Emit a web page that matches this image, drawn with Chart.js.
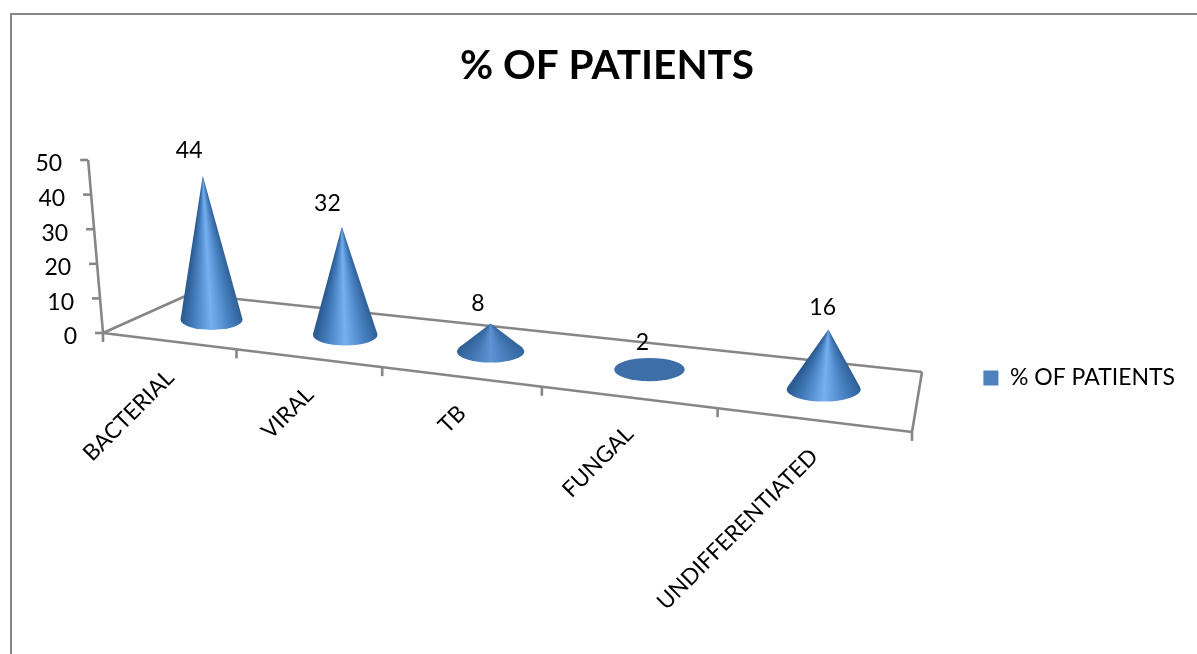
<!DOCTYPE html>
<html>
<head>
<meta charset="utf-8">
<title>% OF PATIENTS</title>
<script src="https://cdn.jsdelivr.net/npm/chart.js@4/dist/chart.umd.js"></script>
<style>
  html, body { margin: 0; height: 100%; overflow: hidden; background: #fff; }
  #frame { position: absolute; left: 10px; top: 13px; width: 1300px; height: 800px; border: 2px solid #868686; }
  canvas { position: absolute; left: 0; top: 0; }
</style>
</head>
<body>
<div id="frame"></div>
<canvas id="chart" width="1197" height="654"></canvas>
<script>
const categories = ['BACTERIAL', 'VIRAL', 'TB', 'FUNGAL', 'UNDIFFERENTIATED'];
const patientPercent = [44, 32, 8, 2, 16];
const yTickValues = [0, 10, 20, 30, 40, 50];
const seriesName = '% OF PATIENTS';

const FONT = 'Lato, "Noto Sans", sans-serif';
const AXIS_GREY = '#868686';

// Floor of the 3D box: front-left, front-right, back-right, back-left
const FLOOR = [[103, 333], [912, 432], [922, 372], [190, 294]];
const WALL_HEIGHT = 173;
const CONE_HEIGHT = 167.7;
const CONE_RADIUS = 32;

// unit square -> floor quad
function makeHomography([p0, p1, p2, p3]) {
  const dx1 = p1[0] - p2[0], dx2 = p3[0] - p2[0], sx = p0[0] - p1[0] + p2[0] - p3[0];
  const dy1 = p1[1] - p2[1], dy2 = p3[1] - p2[1], sy = p0[1] - p1[1] + p2[1] - p3[1];
  const den = dx1 * dy2 - dx2 * dy1;
  const g = (sx * dy2 - dx2 * sy) / den;
  const h = (dx1 * sy - sx * dy1) / den;
  const a = p1[0] - p0[0] + g * p1[0], b = p3[0] - p0[0] + h * p3[0];
  const d = p1[1] - p0[1] + g * p1[1], e = p3[1] - p0[1] + h * p3[1];
  return (u, v) => {
    const w = g * u + h * v + 1;
    return { x: (a * u + b * v + p0[0]) / w, y: (d * u + e * v + p0[1]) / w, w };
  };
}
const floorPoint = makeHomography(FLOOR);

// verticals converge slightly, so a raised point leans with its screen x
function raise(pt, px) {
  return { x: pt.x + (pt.x - 481) * 0.000227 * px, y: pt.y - px };
}

const xFraction = (scale, px) => (px - scale.left) / scale.width;
const yFraction = (scale, px) => (scale.bottom - px) / scale.height;

const SHADE_STOPS = [
  [0, [47, 96, 150]], [0.3, [72, 130, 195]], [0.5, [118, 176, 240]],
  [0.72, [64, 120, 184]], [1, [41, 88, 140]]
];
const FLAT_SHADE = [62, 110, 168];

function shade(stop, contrast) {
  const rgb = stop.map((c, n) => Math.round(FLAT_SHADE[n] + (c - FLAT_SHADE[n]) * contrast));
  return `rgb(${rgb.join(',')})`;
}

// Cone side: conic gradient around the tip, so the shading narrows into the point
function drawCone(ctx, base, tip, rx, ry, contrast) {
  const onRim = a => ({ x: base.x + Math.cos(a) * rx, y: base.y + Math.sin(a) * ry });
  const angleFromTip = p => Math.atan2(p.y - tip.y, p.x - tip.x);
  const start = angleFromTip(onRim(0));
  const turn = a => {
    let t = (a - start) / (2 * Math.PI);
    while (t < 0) t += 1;
    return Math.min(1, t);
  };
  const fill = ctx.createConicGradient(start, tip.x, tip.y);
  // stops run left to right across the front, the gradient runs the other way round
  SHADE_STOPS.slice().reverse().forEach(([s, rgb]) => {
    fill.addColorStop(turn(angleFromTip(onRim(Math.PI * s))), shade(rgb, contrast));
  });
  ctx.fillStyle = fill;

  ctx.beginPath();
  ctx.ellipse(base.x, base.y, rx, ry, 0, 0, 2 * Math.PI);
  ctx.fill();

  // tangents from the tip to the base ellipse, skipped when the tip sits inside it
  const px = (tip.x - base.x) / rx, py = (tip.y - base.y) / ry;
  const d = Math.hypot(px, py);
  if (d > 1) {
    const phi = Math.atan2(py, px), spread = Math.acos(1 / d);
    const a = onRim(phi - spread), b = onRim(phi + spread);
    ctx.beginPath();
    ctx.moveTo(tip.x, tip.y);
    ctx.lineTo(a.x, a.y);
    ctx.lineTo(b.x, b.y);
    ctx.closePath();
    ctx.fill();
  }
}

class ConeController extends Chart.BarController {
  draw() {
    const ctx = this.chart.ctx;
    const xScale = this._cachedMeta.xScale, yScale = this._cachedMeta.yScale;
    const values = this.getDataset().data;
    const tips = [];
    ctx.save();
    this._cachedMeta.data.forEach((bar, i) => {
      const base = floorPoint(xFraction(xScale, bar.x), 0.5);
      const rise = yFraction(yScale, bar.y) * CONE_HEIGHT / Math.pow(base.w, 0.77);
      const tip = raise(base, rise);
      const rx = CONE_RADIUS / base.w;
      const contrast = Math.min(1, Math.max(0, rise / rx - 0.25));
      drawCone(ctx, base, tip, rx, rx * 0.33, contrast);
      tips.push({
        x: base.x + (base.x - 881) * 0.035 + 1,
        y: tip.y - 19 - rise * 0.04,
        text: String(values[i])
      });
    });
    ctx.fillStyle = '#000';
    ctx.font = '23px ' + FONT;
    ctx.textAlign = 'center';
    ctx.textBaseline = 'middle';
    tips.forEach(t => ctx.fillText(t.text, t.x, t.y));
    ctx.restore();
  }
}
ConeController.id = 'cone';
ConeController.defaults = Chart.BarController.defaults;
Chart.register(ConeController);

const perspectiveAxes = {
  id: 'perspectiveAxes',
  beforeDatasetsDraw(chart) {
    const { ctx, scales: { x, y } } = chart;
    const segment = (a, b) => {
      ctx.beginPath();
      ctx.moveTo(a.x, a.y);
      ctx.lineTo(b.x, b.y);
      ctx.stroke();
    };
    ctx.save();
    ctx.strokeStyle = AXIS_GREY;
    ctx.lineWidth = 2.6;
    ctx.fillStyle = '#000';
    ctx.font = '23px ' + FONT;

    const fl = floorPoint(0, 0), fr = floorPoint(1, 0), br = floorPoint(1, 1), bl = floorPoint(0, 1);
    segment(fl, fr); segment(fr, br); segment(br, bl); segment(bl, fl);

    // value axis
    segment(fl, raise(fl, WALL_HEIGHT));
    ctx.textAlign = 'right';
    ctx.textBaseline = 'middle';
    y.ticks.forEach(tick => {
      const p = raise(fl, yFraction(y, y.getPixelForValue(tick.value)) * WALL_HEIGHT);
      segment({ x: p.x - 8, y: p.y }, p);
      ctx.fillText(tick.label, p.x - 26, p.y + 4);
    });

    // category ticks and slanted labels along the front edge
    const n = categories.length;
    for (let i = 0; i <= n; i++) {
      const p = floorPoint(i / n, 0);
      segment(p, { x: p.x, y: p.y + 9 });
    }
    ctx.font = '22.5px ' + FONT;
    x.getLabels().forEach((label, i) => {
      const p = floorPoint(xFraction(x, x.getPixelForValue(i)), 0);
      ctx.save();
      ctx.translate(p.x + 2, p.y + 33);
      ctx.rotate(-Math.PI / 4);
      ctx.fillText(label, 0, 0);
      ctx.restore();
    });
    ctx.restore();
  }
};

new Chart(document.getElementById('chart'), {
  type: 'cone',
  data: {
    labels: categories,
    datasets: [{
      label: seriesName,
      data: patientPercent,
      backgroundColor: '#4F81BD',
      borderWidth: 0
    }]
  },
  options: {
    responsive: false,
    animation: false,
    events: [],
    layout: { padding: { left: 29, right: 12, top: 0, bottom: 0 } },
    scales: {
      x: { type: 'category', display: false, offset: true },
      y: {
        type: 'linear',
        display: false,
        min: yTickValues[0],
        max: yTickValues[yTickValues.length - 1],
        ticks: { stepSize: yTickValues[1] - yTickValues[0] }
      }
    },
    plugins: {
      title: {
        display: true,
        text: seriesName,
        color: '#000',
        font: { family: FONT, size: 40.5, weight: 'bold' },
        padding: { top: 41.5, bottom: 12 }
      },
      legend: {
        position: 'right',
        fullSize: false,
        labels: {
          color: '#000',
          font: { family: FONT, size: 23 },
          boxWidth: 15,
          boxHeight: 15
        }
      },
      tooltip: { enabled: false }
    }
  },
  plugins: [perspectiveAxes]
});
</script>
</body>
</html>
